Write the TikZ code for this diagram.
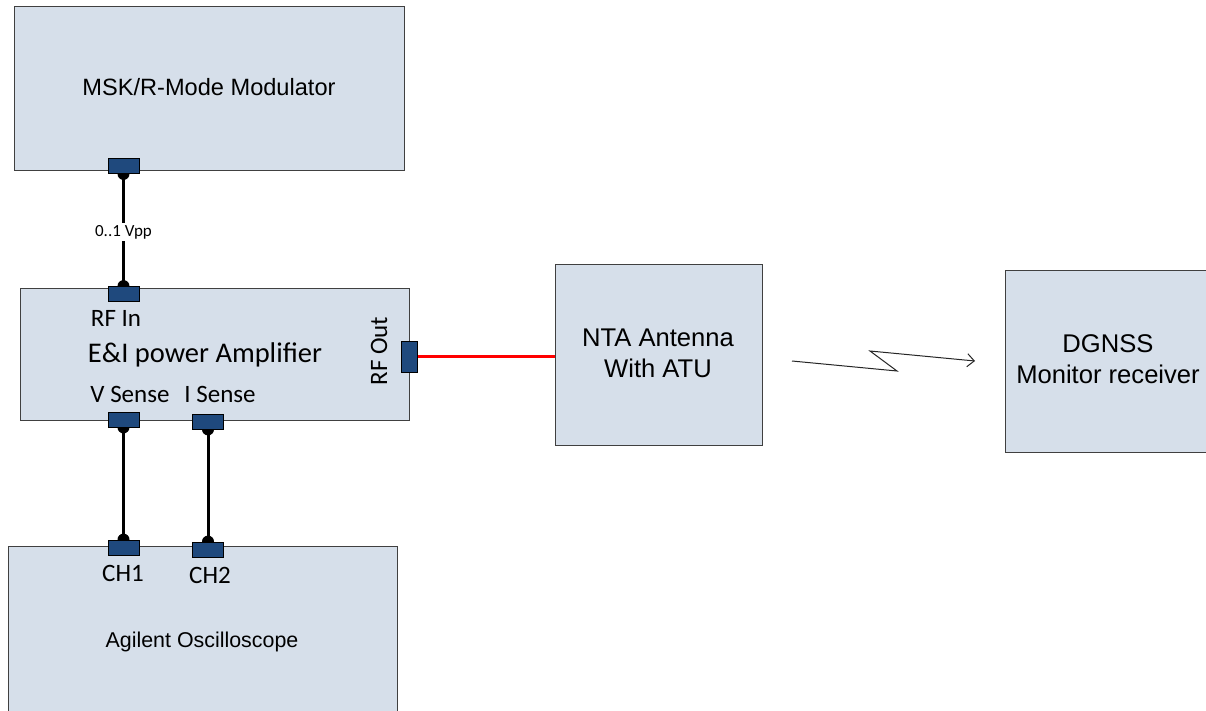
\documentclass[tikz,border=0pt]{standalone}
\usepackage{fontspec}
\setmainfont{Liberation Sans}
\newfontfamily\calfont{Carlito}
\usetikzlibrary{arrows.meta}
\pgfdeclarelayer{back}
\pgfdeclarelayer{mid}
\pgfsetlayers{back,mid,main}
\definecolor{boxfill}{HTML}{D6DFEA}
\definecolor{boxline}{HTML}{404040}
\definecolor{portfill}{HTML}{1F497D}
\tikzset{
  blockbox/.style={draw=boxline, fill=boxfill, line width=1.2pt, inner sep=0pt, anchor=north west},
  port/.style={draw=black, fill=portfill, line width=0.8pt, inner sep=0pt, minimum width=31pt, minimum height=15pt},
  vport/.style={port, minimum width=16pt, minimum height=31pt},
  wire/.style={line width=3pt, black},
  dot/.style={fill=black},
  arial/.style={font=\fontsize{25.6}{31}\selectfont, align=center},
  cal/.style={font=\calfont\fontsize{25}{30}\selectfont, inner sep=0pt},
}
\begin{document}
\begin{tikzpicture}[x=1pt,y=-1pt]
\useasboundingbox (0,0) rectangle (1206,710);
\begin{pgfonlayer}{back}
\clip (0,0) rectangle (1206,710);
\fill[white] (0,0) rectangle (1206,710);
\node[blockbox, minimum width=390pt, minimum height=164pt] (mod) at (14,6) {};
\node[blockbox, minimum width=389pt, minimum height=132pt] (amp) at (20,288) {};
\node[blockbox, minimum width=389pt, minimum height=180pt] (osc) at (8,546) {};
\node[blockbox, minimum width=207pt, minimum height=181pt] (nta) at (555,264) {};
\node[blockbox, minimum width=206pt, minimum height=182pt] (dg) at (1005,270) {};
\end{pgfonlayer}
% texts
\node[font=\fontsize{23.6}{28}\selectfont] (modt) at (209,87) {MSK/R-Mode Modulator};
\node[font=\fontsize{21.4}{26}\selectfont] (osct) at (202,642) {Agilent Oscilloscope};
\node[arial] (ntat) at (658,353) {NTA Antenna\\With ATU};
\node[arial] (dgt) at (1108,359) {DGNSS\\Monitor receiver};
\node[cal, font=\calfont\fontsize{28.5}{32}\selectfont] (ampt) at (205,355) {E\&I power Amplifier};
\node[cal] (rfin) at (116,318) {RF In};
\node[cal] (vst) at (130,394) {V Sense};
\node[cal] (ist) at (220,394) {I Sense};
\node[cal] (ch1t) at (123,573) {CH1};
\node[cal] (ch2t) at (210,575) {CH2};
\node[cal, rotate=90] (rfot) at (379,351) {RF Out};
% ports
\node[port] (mc) at (123.5,166) {};
\node[port] (ain) at (123.5,294) {};
\node[port] (vs) at (123.5,419.5) {};
\node[port] (is) at (208,421.5) {};
\node[port] (ch1) at (123.5,547.5) {};
\node[port] (ch2) at (208,549.5) {};
\node[vport] (rfo) at (409,356.5) {};
% wires
\begin{pgfonlayer}{mid}
\draw[wire] (mc.south) -- (ain.north);
\fill[dot] (mc.south) circle (6);
\fill[dot] (ain.north) circle (6);
\draw[wire] (vs.south) -- (ch1.north);
\fill[dot] (vs.south) circle (6);
\fill[dot] (ch1.north) circle (6);
\draw[wire] (is.south) -- (ch2.north);
\fill[dot] (is.south) circle (6);
\fill[dot] (ch2.north) circle (6);
\draw[red, line width=3pt] (rfo.east) -- (rfo.east -| nta.west);
\end{pgfonlayer}
\node[fill=white, inner sep=2pt, font=\calfont\fontsize{17}{20}\selectfont] (vpp) at (123.5,232) {0..1 Vpp};
% radio link
\coordinate (l1) at (792,361);
\coordinate (l2) at (975,361);
\draw[line width=1pt, black!85, -{Straight Barb[length=7pt,width=13pt]}] (l1) -- (897,371) -- (870,351) -- (l2);
\end{tikzpicture}
\end{document}
